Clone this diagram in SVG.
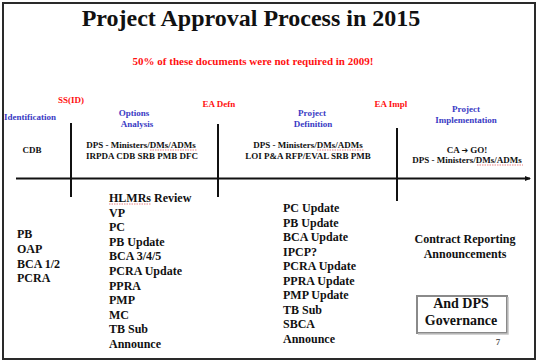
<svg xmlns="http://www.w3.org/2000/svg" width="540" height="364" viewBox="0 0 540 364">
<style>
text{font-family:"Liberation Serif","Times New Roman",serif;font-weight:bold;}
.blk{fill:#111;}
.red{fill:#ff1010;}
.blu{fill:#3a3ac4;}
.ph{font-size:9px;text-anchor:middle;}
.sm{font-size:9px;text-anchor:middle;fill:#111;}
.lst{font-size:12px;fill:#111;}
.cen{font-size:12px;fill:#111;text-anchor:middle;}
.ln{stroke:#111;stroke-width:2;fill:none;}
.sq{stroke:#e05050;stroke-width:0.7;stroke-dasharray:1.5 1;fill:none;}
</style>
<defs>
<marker id="ah" markerWidth="6" markerHeight="6" refX="5" refY="3" orient="auto" markerUnits="userSpaceOnUse">
<path d="M0,0.5 L6,3 L0,5.5 Z" fill="#111"/>
</marker>
</defs>
<rect x="0" y="0" width="540" height="364" fill="#fff"/>
<rect id="frame" x="3" y="3" width="532" height="356" fill="#fff" stroke="#2a2a2a" stroke-width="2"/>

<g id="title">
<text x="251" y="26" font-size="24" text-anchor="middle" class="blk">Project Approval Process in 2015</text>
<text x="253" y="65" font-size="11" text-anchor="middle" class="red">50% of these documents were not required in 2009!</text>
</g>

<g id="connectors">
<line class="ln" x1="16" y1="178.5" x2="530" y2="178.5" marker-end="url(#ah)"/>
<line class="ln" x1="71" y1="123" x2="71" y2="197"/>
<line class="ln" x1="218" y1="124" x2="218" y2="197"/>
<line class="ln" x1="397" y1="128" x2="397" y2="201"/>
</g>

<g id="milestone-ssid"><text x="71" y="103" class="ph red">SS(ID)</text></g>
<g id="milestone-ea-defn"><text x="219" y="107" class="ph red">EA Defn</text></g>
<g id="milestone-ea-impl"><text x="391" y="107" class="ph red">EA Impl</text></g>

<g id="phase-identification">
<text x="30" y="120" class="ph blu">Identification</text>
<text x="32" y="153" class="sm">CDB</text>
<text x="17" y="238" class="lst">PB</text>
<text x="17" y="253" class="lst">OAP</text>
<text x="17" y="267.5" class="lst">BCA 1/2</text>
<text x="17" y="282" class="lst">PCRA</text>
</g>

<g id="phase-options">
<text x="134" y="116" class="ph blu">Options</text>
<text x="137" y="127" class="ph blu">Analysis</text>
<text x="141" y="148" class="sm">DPS - Ministers/DMs/ADMs</text>
<text x="142" y="159" class="sm">IRPDA CDB SRB  PMB DFC</text>
<path class="sq" d="M150,150 H197"/>
<text x="109" y="202" class="lst">HLMRs Review</text>
<text x="109" y="216.6" class="lst">VP</text>
<text x="109" y="231.2" class="lst">PC</text>
<text x="109" y="245.8" class="lst">PB Update</text>
<text x="109" y="260.4" class="lst">BCA 3/4/5</text>
<text x="109" y="275" class="lst">PCRA Update</text>
<text x="109" y="289.6" class="lst">PPRA</text>
<text x="109" y="304.2" class="lst">PMP</text>
<text x="109" y="318.8" class="lst">MC</text>
<text x="109" y="333.4" class="lst">TB Sub</text>
<text x="109" y="348" class="lst">Announce</text>
<path class="sq" d="M109,204 H151"/>
</g>

<g id="phase-definition">
<text x="312" y="116" class="ph blu">Project</text>
<text x="313" y="127" class="ph blu">Definition</text>
<text x="308" y="148" class="sm">DPS - Ministers/DMs/ADMs</text>
<text x="308" y="159" class="sm">LOI P&amp;A RFP/EVAL SRB  PMB</text>
<path class="sq" d="M317,150 H364"/>
<text x="283" y="212" class="lst">PC Update</text>
<text x="283" y="226.5" class="lst">PB Update</text>
<text x="283" y="241" class="lst">BCA Update</text>
<text x="283" y="255.5" class="lst">IPCP?</text>
<text x="283" y="270" class="lst">PCRA Update</text>
<text x="283" y="284.5" class="lst">PPRA Update</text>
<text x="283" y="299" class="lst">PMP Update</text>
<text x="283" y="313.5" class="lst">TB Sub</text>
<text x="283" y="328" class="lst">SBCA</text>
<text x="283" y="342.5" class="lst">Announce</text>
</g>

<g id="phase-implementation">
<text x="466" y="112" class="ph blu">Project</text>
<text x="466" y="123" class="ph blu">Implementation</text>
<text x="467" y="153" class="sm">CA <tspan font-family="'DejaVu Sans',sans-serif" font-size="8">➔</tspan> GO!</text>
<text x="467" y="163" class="sm">DPS - Ministers/DMs/ADMs</text>
<path class="sq" d="M477,165 H523"/>
<text x="465" y="243" class="cen">Contract Reporting</text>
<text x="465" y="258" class="cen">Announcements</text>
</g>

<g id="governance-box">
<rect x="417" y="296" width="90" height="37" fill="#fff" stroke="#8a8a8a" stroke-width="2"/>
<path d="M508,297 V334 H418" fill="none" stroke="#c4c4c4" stroke-width="1.5"/>
<text x="461" y="308" font-size="14" text-anchor="middle" class="blk">And DPS</text>
<text x="461" y="325" font-size="14" text-anchor="middle" class="blk">Governance</text>
</g>

<g id="page-number"><text x="498" y="345" font-size="9" font-weight="normal" fill="#555" text-anchor="middle">7</text></g>
</svg>
